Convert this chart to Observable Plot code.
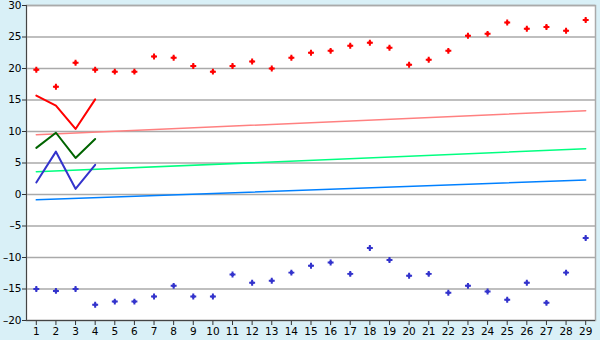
<!DOCTYPE html>
<html><head><meta charset="utf-8">
<script src="https://cdn.jsdelivr.net/npm/d3@7"></script>
<script src="https://cdn.jsdelivr.net/npm/@observablehq/plot@0.6"></script>
<style>html,body{margin:0;padding:0;background:#d9f0f7;}</style>
</head><body><div id="chart"></div>
<script>
const xs = d3.range(1, 30);
const redPoints = [19.8,17.1,20.9,19.8,19.5,19.5,21.9,21.7,20.4,19.5,20.4,21.1,20.0,21.7,22.5,22.8,23.6,24.1,23.3,20.6,21.4,22.8,25.2,25.5,27.3,26.3,26.6,26.0,27.7];
const bluePoints = [-15.0,-15.3,-15.0,-17.5,-17.0,-17.0,-16.2,-14.5,-16.2,-16.2,-12.7,-14.0,-13.7,-12.4,-11.3,-10.8,-12.6,-8.5,-10.4,-12.9,-12.6,-15.6,-14.5,-15.4,-16.7,-14.0,-17.2,-12.4,-6.9];
const lineX = [1,2,3,4];
const redLine = [15.7,14.1,10.4,15.1];
const greenLine = [7.4,9.8,5.8,8.8];
const blueLine = [1.9,6.8,0.9,4.7];
const trendX = [1,29];
const pinkTrend = [9.5,13.3];
const greenTrend = [3.6,7.25];
const blueTrend = [-0.85,2.3];
const yTicks = [-20,-15,-10,-5,0,5,10,15,20,25,30];

const pts = (ys, xv = xs) => ys.map((y, i) => ({x: xv[i], y}));
const fmt = d => d < 0 ? "\u2013" + Math.abs(d) : String(d);
const marker = (data, color) => [
  Plot.dot(data, {x: "x", y: "y", r: 1.8, fill: color, stroke: "none"}),
  Plot.dot(data, {x: "x", y: "y", symbol: "cross", r: 2.5, fill: color, stroke: "none"})
];

const plot = Plot.plot({
  width: 600, height: 340,
  marginLeft: 26, marginRight: 5, marginTop: 5, marginBottom: 20,
  style: {background: "#d9f0f7", fontFamily: "DejaVu Sans", fontSize: "10.5px", color: "#000"},
  x: {domain: [0.5, 29.5], axis: null, label: null},
  y: {domain: [-20, 30], axis: null, label: null},
  marks: [
    Plot.frame({fill: "white", stroke: "#aaa", strokeWidth: 1.5}),
    Plot.ruleY(yTicks, {stroke: "#aaa", strokeWidth: 1.5}),
    Plot.line(pts(pinkTrend, trendX), {x: "x", y: "y", stroke: "#ff8080", strokeWidth: 1.5}),
    Plot.line(pts(greenTrend, trendX), {x: "x", y: "y", stroke: "#00ff80", strokeWidth: 1.5}),
    Plot.line(pts(blueTrend, trendX), {x: "x", y: "y", stroke: "#0080ff", strokeWidth: 1.5}),
    Plot.line(pts(redLine, lineX), {x: "x", y: "y", stroke: "#ff0000", strokeWidth: 2}),
    Plot.line(pts(greenLine, lineX), {x: "x", y: "y", stroke: "#006400", strokeWidth: 2}),
    Plot.line(pts(blueLine, lineX), {x: "x", y: "y", stroke: "#3333cc", strokeWidth: 2}),
    ...marker(pts(redPoints), "#ff0000"),
    ...marker(pts(bluePoints), "#3333cc"),
    Plot.axisY(yTicks, {tickSize: 4, tickPadding: 1, tickFormat: fmt, stroke: "#333", fontSize: 10.5, label: null}),
    Plot.axisX(xs, {tickSize: 5, tickPadding: 2, stroke: "#333", fontSize: 10.5, label: null}),
    Plot.ruleX([0.5], {stroke: "#444"}),
    Plot.ruleY([-20], {stroke: "#444"})
  ]
});
document.getElementById("chart").appendChild(plot);
</script></body></html>
